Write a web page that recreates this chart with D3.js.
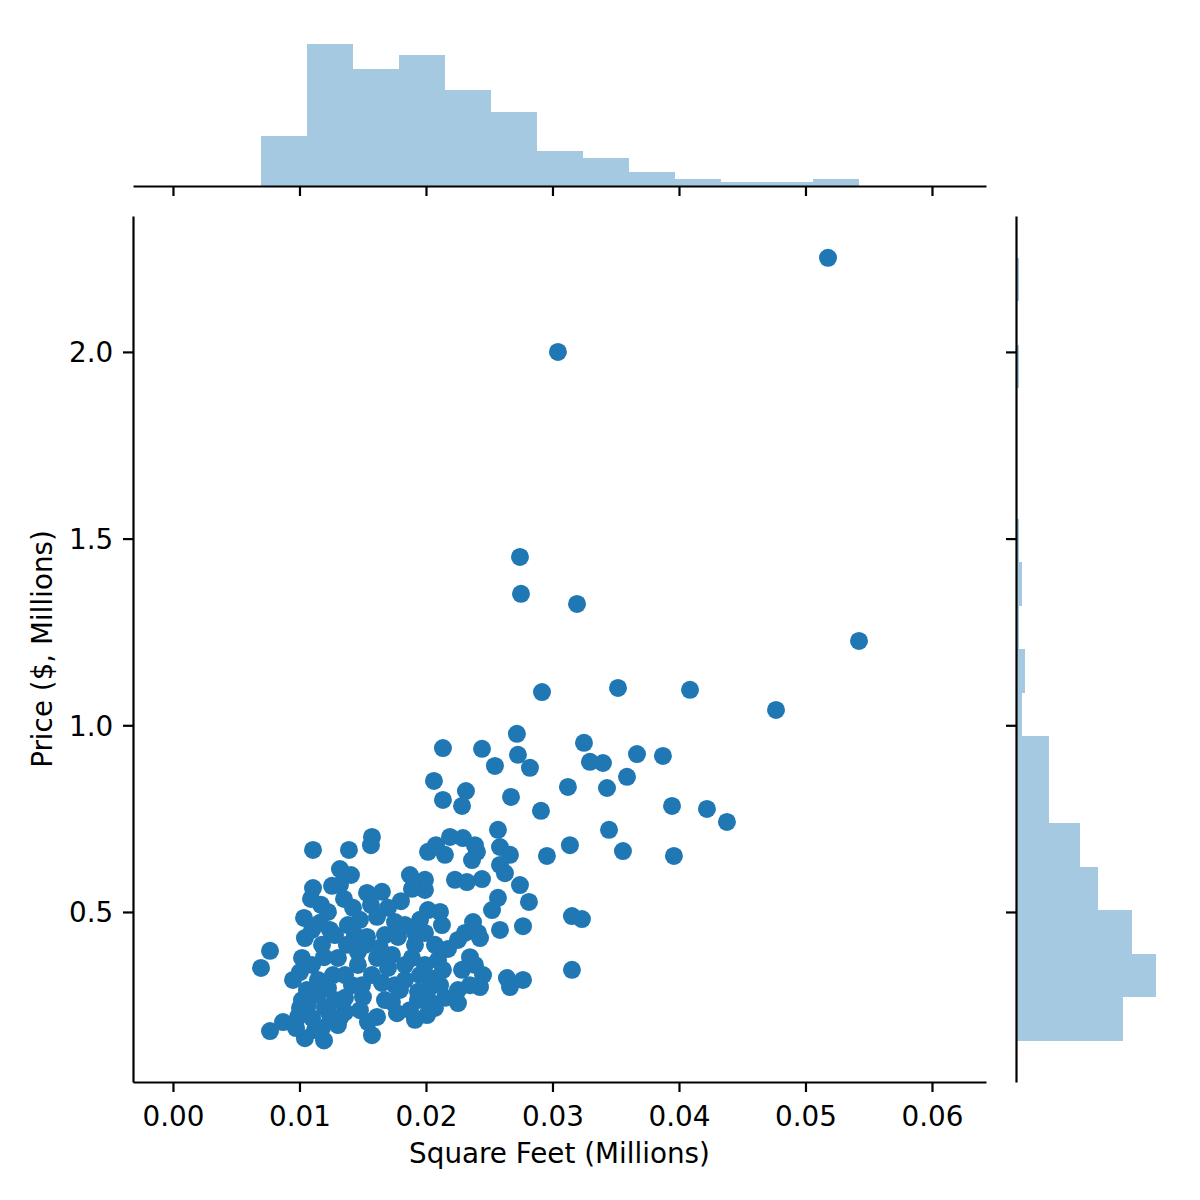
<!DOCTYPE html>
<html>
<head>
<meta charset="utf-8">
<script src="https://cdn.jsdelivr.net/npm/d3@7"></script>
<style>
  html, body { margin: 0; padding: 0; background: #fff; }
  svg { display: block; }
  text { font-family: "DejaVu Sans", sans-serif; fill: #000; }
</style>
</head>
<body>
<svg id="chart" width="1200" height="1200"></svg>
<script>
// ---- data ----
// visible points followed by points estimated inside the dense overlapping cluster
const sqft = [
0.05178,0.03043,0.02743,0.02751,0.03194,0.05423,0.02917,0.03518,0.04087,0.04767,
0.02134,0.02443,0.02719,0.02727,0.02545,0.02822,0.02063,0.03249,0.03296,0.03399,
0.03668,0.03589,0.03122,0.03431,0.02134,0.02316,0.02285,0.02672,0.02909,0.03873,
0.03945,0.04221,0.04379,0.03447,0.03138,0.02956,0.03557,0.03960,0.02569,0.02190,
0.02292,0.02387,0.02403,0.02016,0.02150,0.02585,0.02664,0.02364,0.02585,0.02624,
0.01992,0.02229,0.02324,0.02443,0.02743,0.02569,0.02522,0.02814,0.01992,0.02016,
0.02126,0.02372,0.02585,0.02767,0.03154,0.03233,0.02308,0.02411,0.01107,0.01391,
0.01573,0.01565,0.01320,0.01407,0.01107,0.01257,0.01889,0.01091,0.01170,0.01352,
0.01423,0.01534,0.01652,0.01802,0.01565,0.01613,0.01700,0.01036,0.01162,0.01241,
0.01043,0.01439,0.01534,0.01676,0.01779,0.01913,0.01992,0.00767,0.00696,0.01194,
0.01375,0.01462,0.01613,0.01731,0.01992,0.01834,0.01004,0.00949,0.01059,0.01265,
0.01225,0.01415,0.01502,0.01360,0.01652,0.01731,0.01771,0.01613,0.01573,0.01067,
0.01099,0.01202,0.01304,0.00870,0.00767,0.01043,0.01194,0.01178,0.00988,0.01937,
0.02008,0.01937,0.02032,0.02427,0.02174,0.02348,0.02387,0.02451,0.02427,0.02640,
0.02664,0.02767,0.03154,0.02253,0.02150,0.02253,0.02032,
0.01004,0.00972,0.01020,0.01020,
0.01123,0.01241,0.01360,0.01146,0.01281,0.01320,0.01099,0.01178,0.01304,0.01360,
0.01146,0.01281,0.01099,0.01383,0.01225,0.01320,
0.01478,0.01676,0.01541,0.01462,0.01573,0.01700,0.01494,0.01755,0.01518,0.01636,
0.01755,0.01478,
0.01873,0.02071,0.01913,0.01834,0.01953,0.02111,0.01889,0.02095,0.02016,0.01794,
0.01913,0.02071,0.01834,0.01953,0.02111,0.01873,0.02079,0.02134,
0.02285,0.02348,0.02253
];
const price = [
2.252,2.000,1.451,1.352,1.325,1.226,1.089,1.100,1.095,1.041,
0.939,0.937,0.977,0.921,0.891,0.886,0.851,0.953,0.902,0.899,
0.923,0.862,0.835,0.832,0.800,0.824,0.784,0.808,0.771,0.918,
0.784,0.776,0.741,0.720,0.679,0.650,0.663,0.650,0.720,0.701,
0.698,0.679,0.661,0.661,0.653,0.674,0.653,0.639,0.626,0.604,
0.586,0.586,0.580,0.588,0.572,0.538,0.505,0.527,0.559,0.505,
0.465,0.473,0.452,0.462,0.489,0.481,0.444,0.444,0.666,0.666,
0.701,0.679,0.615,0.599,0.564,0.570,0.562,0.535,0.519,0.535,
0.511,0.551,0.554,0.529,0.519,0.487,0.511,0.484,0.471,0.452,
0.430,0.438,0.433,0.438,0.433,0.444,0.444,0.396,0.350,0.379,
0.412,0.393,0.377,0.385,0.358,0.358,0.339,0.318,0.291,0.331,
0.296,0.304,0.272,0.270,0.310,0.259,0.229,0.219,0.170,0.251,
0.216,0.243,0.197,0.205,0.181,0.162,0.156,0.189,0.219,0.264,
0.224,0.286,0.323,0.430,0.401,0.379,0.358,0.331,0.299,0.323,
0.299,0.318,0.345,0.291,0.270,0.256,0.259,
0.243,0.189,0.377,0.264,
0.184,0.224,0.232,0.278,0.264,0.216,0.358,0.412,0.377,0.331,
0.318,0.438,0.452,0.465,0.500,0.572,
0.237,0.264,0.205,0.358,0.331,0.350,0.304,0.304,0.412,0.404,
0.473,0.479,
0.237,0.243,0.211,0.318,0.331,0.304,0.377,0.371,0.291,0.291,
0.412,0.412,0.465,0.479,0.500,0.599,0.679,0.345,
0.345,0.304,0.425
];

// marginal histogram of square feet (bin edges and counts)
const sqftBinEdges = [0.00693,0.01057,0.01420,0.01784,0.02148,0.02511,0.02875,0.03239,0.03602,0.03966,0.04330,0.04693,0.05057,0.05421];
const sqftBinCounts = [14,40,33,37,27,21,10,8,4,2,1,1,2];

// marginal histogram of price (bin edges and counts)
const priceBinEdges = [0.1552,0.2717,0.3882,0.5046,0.6211,0.7376,0.8541,0.9706,1.0871,1.2035,1.3200,1.4365,1.5530,1.6694,1.7859,1.9024,2.0189,2.1353,2.2518];
const priceBinCounts = [35,46,38,27,21,11,11,2,3,1,2,1,0,0,0,1,0,1];

const xTicks = [0.00,0.01,0.02,0.03,0.04,0.05,0.06];
const yTicks = [0.5,1.0,1.5,2.0];
const xLabel = "Square Feet (Millions)";
const yLabel = "Price ($, Millions)";

// ---- layout ----
const main = {left:133, right:986, top:216, bottom:1082};
const topM = {top:37, bottom:186};
const rightM = {left:1016, right:1163};
const FONT = 27.8;
const LW = 2.2;
const TICK = 10;
const blue = "#1f77b4";

const svg = d3.select("#chart");

const x = d3.scaleLinear().domain([-0.00316, 0.06427]).range([main.left, main.right]);
const y = d3.scaleLinear().domain([0.0446, 2.364]).range([main.bottom, main.top]);
const yTop = d3.scaleLinear().domain([0, 42]).range([topM.bottom, topM.top]);
const xRight = d3.scaleLinear().domain([0, 48.3]).range([rightM.left, rightM.right]);

function styleAxis(g) {
  g.selectAll("path.domain").attr("stroke", "#000").attr("stroke-width", LW);
  g.selectAll(".tick line").attr("stroke", "#000").attr("stroke-width", LW);
  g.selectAll("text").style("font-size", FONT + "px").attr("fill", "#000")
    .style("font-family", '"DejaVu Sans", sans-serif');
}

// ---- top marginal histogram ----
const topBins = sqftBinCounts.map((c, i) => ({x0: sqftBinEdges[i], x1: sqftBinEdges[i+1], c}));
svg.append("g").selectAll("rect").data(topBins).join("rect")
  .attr("x", d => x(d.x0))
  .attr("width", d => x(d.x1) - x(d.x0))
  .attr("y", d => yTop(d.c))
  .attr("height", d => yTop(0) - yTop(d.c))
  .attr("fill", blue).attr("fill-opacity", 0.4)
  .attr("shape-rendering", "crispEdges");

// ---- right marginal histogram ----
const rightBins = priceBinCounts.map((c, i) => ({y0: priceBinEdges[i], y1: priceBinEdges[i+1], c}));
svg.append("g").selectAll("rect").data(rightBins.filter(d => d.c > 0)).join("rect")
  .attr("x", xRight(0))
  .attr("width", d => xRight(d.c) - xRight(0))
  .attr("y", d => y(d.y1))
  .attr("height", d => y(d.y0) - y(d.y1))
  .attr("fill", blue).attr("fill-opacity", 0.4)
  .attr("shape-rendering", "crispEdges");

// ---- scatter ----
const pts = sqft.map((v, i) => ({x: v, y: price[i]}));
svg.append("g").selectAll("circle").data(pts).join("circle")
  .attr("cx", d => x(d.x))
  .attr("cy", d => y(d.y))
  .attr("r", 9)
  .attr("fill", blue);

// ---- main axes ----
const gx = svg.append("g").attr("transform", `translate(0,${main.bottom})`)
  .call(d3.axisBottom(x).tickValues(xTicks).tickFormat(d3.format(".2f"))
    .tickSize(TICK).tickSizeOuter(0));
styleAxis(gx);
gx.selectAll("text").attr("y", 44).attr("dy", 0);

const gy = svg.append("g").attr("transform", `translate(${main.left},0)`)
  .call(d3.axisLeft(y).tickValues(yTicks).tickFormat(d3.format(".1f"))
    .tickSize(TICK).tickSizeOuter(0));
styleAxis(gy);
gy.selectAll("text").attr("x", -19.7).attr("dy", "0.36em");

// ---- marginal axes ----
const gxt = svg.append("g").attr("transform", `translate(0,${topM.bottom})`)
  .call(d3.axisBottom(x).tickValues(xTicks).tickFormat("").tickSize(TICK).tickSizeOuter(0));
styleAxis(gxt);

const gyr = svg.append("g").attr("transform", `translate(${rightM.left},0)`)
  .call(d3.axisLeft(y).tickValues(yTicks).tickFormat("").tickSize(TICK).tickSizeOuter(0));
styleAxis(gyr);

// ---- axis labels ----
svg.append("text")
  .attr("x", (main.left + main.right) / 2)
  .attr("y", 1163)
  .attr("text-anchor", "middle")
  .style("font-size", FONT + "px")
  .text(xLabel);

svg.append("text")
  .attr("transform", `translate(51.5,${(main.top + main.bottom) / 2}) rotate(-90)`)
  .attr("text-anchor", "middle")
  .style("font-size", FONT + "px")
  .text(yLabel);
</script>
</body>
</html>
